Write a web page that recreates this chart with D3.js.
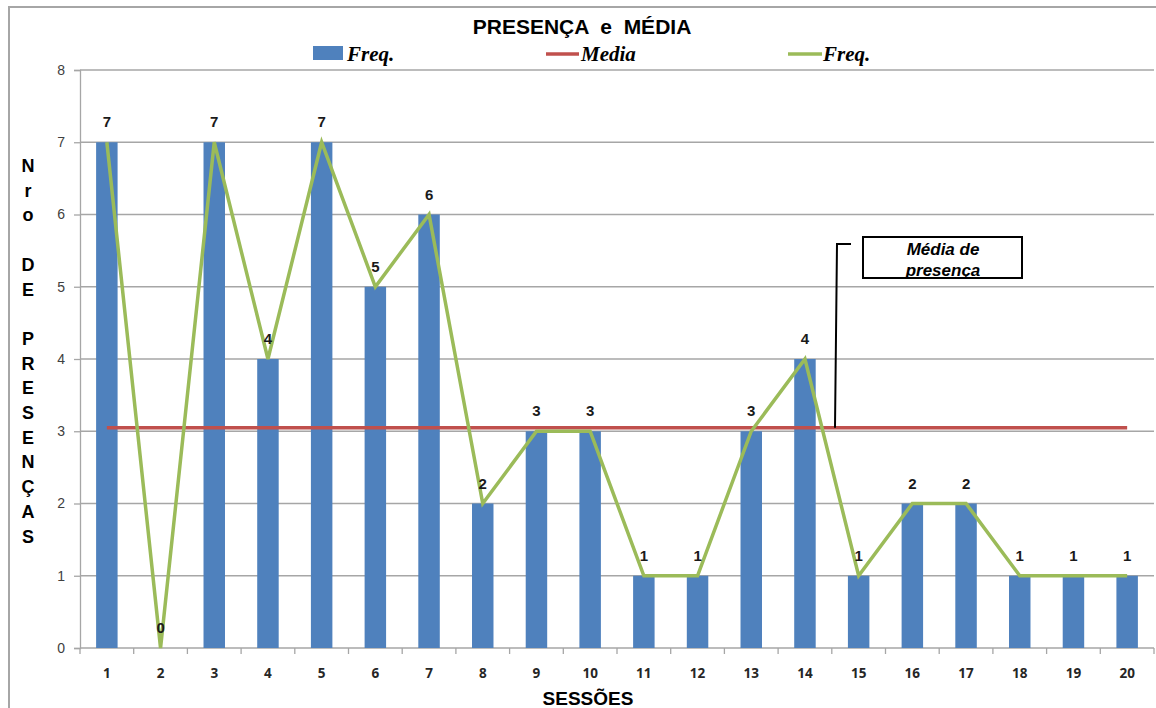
<!DOCTYPE html>
<html>
<head>
<meta charset="utf-8">
<script src="https://cdn.jsdelivr.net/npm/d3@7"></script>
<style>
  html, body { margin: 0; padding: 0; background: #fff; }
  svg { display: block; }
  text { white-space: pre; }
</style>
</head>
<body>
<svg id="chart" width="1156" height="708"></svg>
<script>
// Sessions and attendance counts
const sessions = ["1","2","3","4","5","6","7","8","9","10","11","12","13","14","15","16","17","18","19","20"];
const freq = [7, 0, 7, 4, 7, 5, 6, 2, 3, 3, 1, 1, 3, 4, 1, 2, 2, 1, 1, 1];
const yTicks = [0, 1, 2, 3, 4, 5, 6, 7, 8];
const mediaValue = d3.mean(freq); // 3.05
const yLabelLetters = ["N","r","o","","D","E","","P","R","E","S","E","N","Ç","A","S"];

const svg = d3.select("#chart");
const W = 1156, H = 708;
const plot = { left: 80, right: 1154, top: 70, bottom: 648 };

const x = d3.scaleBand().domain(sessions).range([plot.left, plot.right]).paddingInner(0.6).paddingOuter(0.3);
const xStep = d3.scaleBand().domain(sessions).range([plot.left, plot.right]);
const y = d3.scaleLinear().domain([0, 8]).range([plot.bottom, plot.top]);
const cx = s => xStep(s) + xStep.bandwidth() / 2;
const sans = "'Liberation Sans', Arial, sans-serif";

// outer frame (left and top edges)
svg.append("path")
  .attr("d", `M9,${H} L9,7 L${W},7`)
  .attr("fill", "none").attr("stroke", "#a6a6a6").attr("stroke-width", 2);

// horizontal gridlines
svg.append("g").selectAll("line").data(yTicks.filter(t => t > 0)).join("line")
  .attr("x1", plot.left).attr("x2", plot.right)
  .attr("y1", d => y(d)).attr("y2", d => y(d))
  .attr("stroke", "#a6a6a6").attr("stroke-width", 1.3);

// y axis
const yAxis = svg.append("g").attr("transform", `translate(${plot.left},0)`)
  .call(d3.axisLeft(y).tickValues(yTicks).tickSize(6).tickPadding(9).tickFormat(d3.format("d")));
yAxis.selectAll("path, line").attr("stroke", "#a6a6a6").attr("stroke-width", 1.3);
yAxis.selectAll("text").attr("font-family", sans)
  .attr("font-size", 14).attr("fill", "#404040");

// x axis with ticks between categories
const xAxisG = svg.append("g").attr("transform", `translate(0,${plot.bottom})`);
xAxisG.append("line").attr("x1", plot.left).attr("x2", plot.right)
  .attr("stroke", "#a6a6a6").attr("stroke-width", 1.3);
xAxisG.selectAll("line.tk").data(d3.range(sessions.length + 1)).join("line")
  .attr("class", "tk")
  .attr("x1", i => plot.left + i * xStep.step()).attr("x2", i => plot.left + i * xStep.step())
  .attr("y1", 0).attr("y2", 6).attr("stroke", "#a6a6a6").attr("stroke-width", 1.3);
xAxisG.selectAll("text").data(sessions).join("text")
  .attr("x", d => cx(d)).attr("y", 30)
  .attr("text-anchor", "middle")
  .attr("font-family", "'Open Sans', 'Liberation Sans', sans-serif")
  .attr("font-weight", "bold").attr("font-size", 13.5).attr("fill", "#262626")
  .text(d => d);

// bars
svg.append("g").selectAll("rect").data(sessions).join("rect")
  .attr("x", d => x(d)).attr("width", x.bandwidth())
  .attr("y", (d, i) => y(freq[i]))
  .attr("height", (d, i) => y(0) - y(freq[i]))
  .attr("fill", "#4f81bd");

// mean line
svg.append("line")
  .attr("x1", cx(sessions[0])).attr("x2", cx(sessions[sessions.length - 1]))
  .attr("y1", y(mediaValue)).attr("y2", y(mediaValue))
  .attr("stroke", "#c0504d").attr("stroke-width", 3.5);

// frequency line
const line = d3.line().x((d, i) => cx(sessions[i])).y(d => y(d));
svg.append("path").datum(freq)
  .attr("d", line).attr("fill", "none")
  .attr("stroke", "#9bbb59").attr("stroke-width", 3.5).attr("stroke-linejoin", "miter");

// value labels
svg.append("g").selectAll("text").data(freq).join("text")
  .attr("x", (d, i) => cx(sessions[i]))
  .attr("y", d => y(d) - 15)
  .attr("text-anchor", "middle")
  .attr("font-family", sans)
  .attr("font-weight", "bold").attr("font-size", 15).attr("fill", "#1a1a1a")
  .text(d => d);

// title
svg.append("text").attr("x", 582).attr("y", 34).attr("text-anchor", "middle")
  .attr("font-family", sans)
  .attr("font-weight", "bold").attr("font-size", 21).attr("fill", "#000")
  .text("PRESENÇA  e  MÉDIA");

// legend
const legendFont = "'Liberation Serif', 'Times New Roman', serif";
const lg = svg.append("g");
lg.append("rect").attr("x", 313).attr("y", 46).attr("width", 30).attr("height", 14).attr("fill", "#4f81bd");
lg.append("text").attr("x", 347).attr("y", 61).text("Freq.");
lg.append("line").attr("x1", 546).attr("x2", 579).attr("y1", 54).attr("y2", 54)
  .attr("stroke", "#c0504d").attr("stroke-width", 3.5);
lg.append("text").attr("x", 581).attr("y", 61).text("Media");
lg.append("line").attr("x1", 788).attr("x2", 822).attr("y1", 54).attr("y2", 54)
  .attr("stroke", "#9bbb59").attr("stroke-width", 3.5);
lg.append("text").attr("x", 823).attr("y", 61).text("Freq.");
lg.selectAll("text").attr("font-family", legendFont).attr("font-weight", "bold")
  .attr("font-style", "italic").attr("font-size", 21).attr("fill", "#000");

// y axis title, one letter per line
svg.append("g").selectAll("text").data(yLabelLetters).join("text")
  .attr("x", 28).attr("y", (d, i) => 172 + i * 24.7)
  .attr("text-anchor", "middle")
  .attr("font-family", sans)
  .attr("font-weight", "bold").attr("font-size", 18).attr("fill", "#000")
  .text(d => d);

// x axis title
svg.append("text").attr("x", 588).attr("y", 705).attr("text-anchor", "middle")
  .attr("font-family", sans)
  .attr("font-weight", "bold").attr("font-size", 19).attr("fill", "#000")
  .text("SESSÕES");

// callout for the mean line
const callX = 835;
svg.append("path")
  .attr("d", `M851,244 L${callX + 2},244 L${callX},${y(mediaValue)}`)
  .attr("fill", "none").attr("stroke", "#000").attr("stroke-width", 2);
svg.append("rect").attr("x", 863).attr("y", 237).attr("width", 159).attr("height", 41)
  .attr("fill", "#fff").attr("stroke", "#000").attr("stroke-width", 2);
const callText = svg.append("text").attr("text-anchor", "middle")
  .attr("font-family", sans)
  .attr("font-weight", "bold").attr("font-style", "italic").attr("font-size", 17).attr("fill", "#000");
callText.append("tspan").attr("x", 943).attr("y", 255).text("Média de");
callText.append("tspan").attr("x", 943).attr("y", 276).text("presença");
</script>
</body>
</html>
